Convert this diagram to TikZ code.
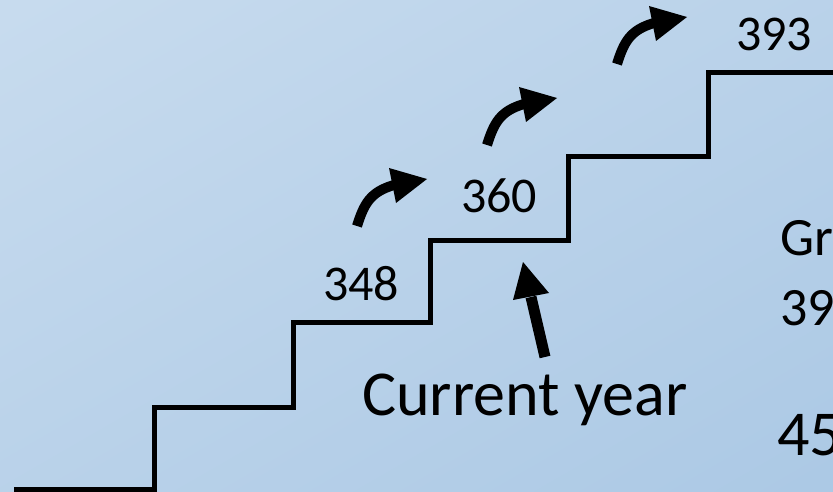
\documentclass[tikz,border=0pt]{standalone}
\usepackage{fontspec}
\setmainfont{Carlito}
\definecolor{bgA}{RGB}{199,219,238}
\definecolor{bgB}{RGB}{172,201,229}
\tikzset{
  stair/.style={line width=5pt, line join=miter, line cap=rect},
  lbl/.style={anchor=base west, inner sep=0pt, text=black},
  numfont/.style={font=\fontsize{50}{60}\selectfont},
  bigfont/.style={font=\fontsize{64}{76}\selectfont},
  sidefont/.style={font=\fontsize{54}{64}\selectfont},
  bentarrow/.pic={
    \draw[line width=10pt] (0,0) .. controls (7,-22) and (13,-34) .. (37,-41);
    \fill (32,-58) -- (70,-47) -- (39,-23) -- cycle;
  }
}
\begin{document}
\begin{tikzpicture}[x=1pt,y=-1pt]
\useasboundingbox (0,0) rectangle (833,492);
\clip (0,0) rectangle (833,492);
\shade[top color=bgA, bottom color=bgB, shading angle=30] (-100,-100) rectangle (933,592);
% staircase
\draw[stair] (16,489) -- (154,489) -- (154,407) -- (293,407) -- (293,322)
  -- (430,322) -- (430,240) -- (568,240) -- (568,157) -- (708,157)
  -- (708,73) -- (845,73);
% labels
\node[lbl, numfont] (n348) at (323,300) {348};
\node[lbl, numfont] (n360) at (461,212) {360};
\node[lbl, numfont] (n393) at (736,51) {393};
\node[lbl, bigfont] (cy) at (362,415) {Current year};
\node[lbl, sidefont] (gr) at (780,255) {Gr};
\node[lbl, sidefont] (n39) at (780,325) {39};
\node[lbl, font=\fontsize{64}{76}\selectfont] (n45) at (777,455) {45};
% bent arrows
\pic at (357,226) {bentarrow};
\pic at (487,145) {bentarrow};
\pic at (617,64) {bentarrow};
% current year arrow
\coordinate (cyt) at (545,357);
\coordinate (cyb) at (531,297);
\draw[line width=11pt] (cyt) -- (cyb);
\fill (513,300) -- (523,262) -- (549,293) -- cycle;
\end{tikzpicture}
\end{document}
